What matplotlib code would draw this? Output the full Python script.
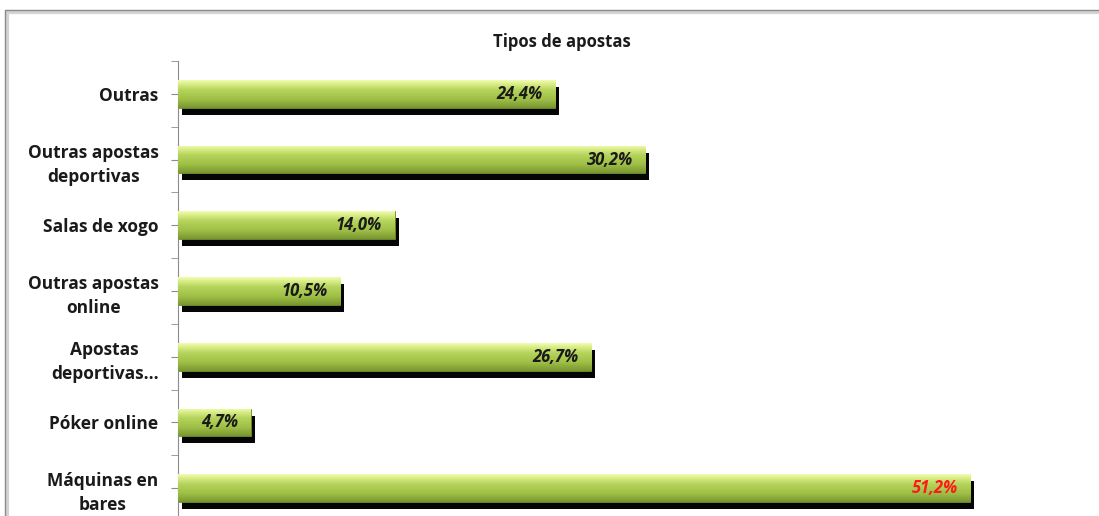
import numpy as np
import matplotlib
matplotlib.use("Agg")
import matplotlib.pyplot as plt
from matplotlib.transforms import ScaledTranslation
from matplotlib.colors import LinearSegmentedColormap
from matplotlib.patches import Rectangle

categories = ["Outras", "Outras apostas\ndeportivas", "Salas de xogo",
              "Outras apostas\nonline", "Apostas\ndeportivas...",
              "Póker online", "Máquinas en\nbares"]
values = [24.4, 30.2, 14.0, 10.5, 26.7, 4.7, 51.2]
value_labels = ["24,4%", "30,2%", "14,0%", "10,5%", "26,7%", "4,7%", "51,2%"]
title = "Tipos de apostas"

plt.rcParams['font.family'] = ['Open Sans', 'DejaVu Sans']

fig = plt.figure(figsize=(10.99, 5.16), dpi=100)
W, H = 1099, 516

# outer chart frame with soft shadow
fig.patches.append(Rectangle((7 / W, -0.1), 1.2, (516 - 12) / H + 0.1,
                             transform=fig.transFigure, facecolor='none',
                             edgecolor='#d4d4d4', linewidth=3, zorder=0))
fig.patches.append(Rectangle((5 / W, -0.1), 1.2, (516 - 10) / H + 0.1,
                             transform=fig.transFigure, facecolor='none',
                             edgecolor='#8c8c8c', linewidth=1, zorder=1))

XMAX = 58
ax = fig.add_axes([178 / W, (516 - 521) / H, XMAX * 15.47 / W, (521 - 61) / H])
n = len(categories)
y = np.arange(n)
h = 0.42

# shadow bars
shadow_tr = ax.transData + ScaledTranslation(4 / 100, -7 / 100, fig.dpi_scale_trans)
ax.barh(y, values, height=h, color='#050505', transform=shadow_tr, zorder=1)

bars = ax.barh(y, values, height=h, color='#a5c64a', zorder=2)

cmap = LinearSegmentedColormap.from_list(
    'g', [(0.0, '#f2fbb4'), (0.12, '#dcf08c'), (0.35, '#b6d45c'),
          (0.7, '#9ebe46'), (1.0, '#789630')])
grad = np.linspace(0, 1, 100).reshape(-1, 1)
for b in bars:
    x0, y0, w, hh = b.get_x(), b.get_y(), b.get_width(), b.get_height()
    im = ax.imshow(grad, cmap=cmap, aspect='auto',
                   extent=(x0, x0 + w, y0 + hh, y0), origin='upper',
                   zorder=3, interpolation='bilinear')
    im.set_clip_path(b)
    b.set_edgecolor('#6e8a28')
    b.set_linewidth(0.6)

ax.set_xlim(0, XMAX)
ax.set_ylim(n - 0.5, -0.5)

for i, (v, lab) in enumerate(zip(values, value_labels)):
    col = '#ff1a1a' if i == n - 1 else '#1a1a1a'
    ax.text(v - 0.8, i, lab, ha='right', va='center', fontsize=12,
            fontweight='bold', fontstyle='italic', color=col, zorder=5)

ax.set_yticks(y)
ax.set_yticklabels(categories, fontsize=12.5, fontweight='bold',
                   multialignment='center', color='#1a1a1a', linespacing=1.45)
ax.set_yticks(np.arange(n + 1) - 0.5, minor=True)
ax.tick_params(axis='y', which='both', length=5, color='#8c8c8c', pad=9)
ax.set_xticks([])
for s in ['top', 'right', 'bottom']:
    ax.spines[s].set_visible(False)
ax.spines['left'].set_color('#8c8c8c')
ax.set_facecolor('none')

fig.text(562 / W, 1 - 42 / H, title, ha='center', va='center',
         fontsize=12, fontweight='bold', color='#1a1a1a')

fig.savefig('out.png', dpi=100)
